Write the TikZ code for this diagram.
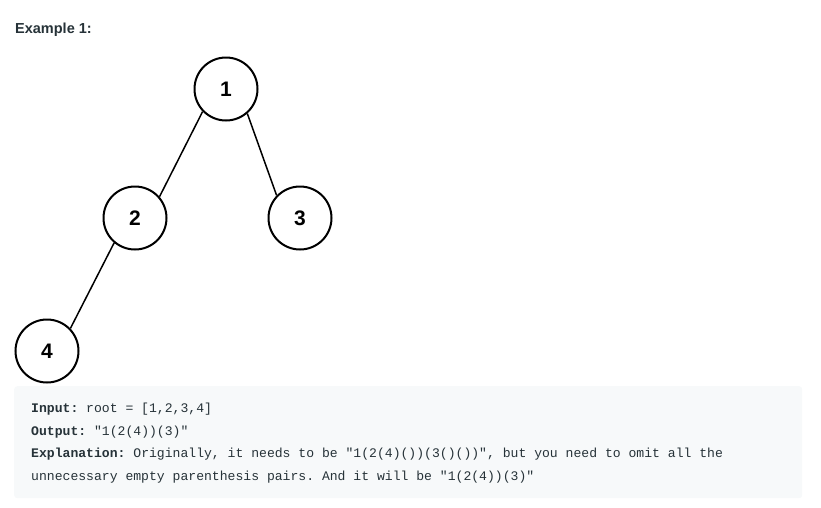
\documentclass[tikz,border=0pt]{standalone}
\usepackage{fontspec}
\setmainfont{Liberation Sans}
\setmonofont{Liberation Mono}
\usepackage{xcolor}
\definecolor{textDark}{HTML}{263238}
\definecolor{codeBack}{HTML}{F7F9FA}
\usetikzlibrary{positioning}
\tikzset{
  treeNode/.style={
    circle,
    draw=black,
    line width=2pt,
    fill=white,
    minimum size=63pt,
    inner sep=0pt,
    font=\fontsize{21}{21}\selectfont\bfseries
 },
  treeEdge/.style={
    line width=1.5pt,
    color=black
 },
  codeLine/.style={
    anchor=base west,
    inner sep=0pt,
    text=textDark,
    font=\fontsize{13.1}{14}\ttfamily
 }
}

\begin{document}
\begin{tikzpicture}[x=1pt,y=-1pt,on grid]
  \useasboundingbox (0,0) rectangle (821,507);

  % Heading
  \node[anchor=base west, inner sep=0pt, text=textDark,
        font=\fontsize{14.5}{16}\selectfont\bfseries] (title) at (15,33) {Example 1:};

  % Tree
  \node[treeNode] (n1) at (226,89) {1};
  \node[treeNode, below left=129pt and 91pt of n1] (n2) {2};
  \node[treeNode, below right=129pt and 74pt of n1] (n3) {3};
  \node[treeNode, below left=133pt and 88pt of n2] (n4) {4};

  \draw[treeEdge] (n1.224) -- (n2.41);
  \draw[treeEdge] (n1.311) -- (n3.136);
  \draw[treeEdge] (n2.230) -- (n4.44);

  % Code box
  \node[rectangle, rounded corners=3pt, fill=codeBack, anchor=north west,
        minimum width=788pt, minimum height=112pt, inner sep=0pt] (box) at (14,386) {};
  \node[codeLine] (input) at (31,412.5) {\textbf{Input:} root = [1,2,3,4]};
  \node[codeLine] (output) at (31,435.5) {\textbf{Output:} "1(2(4))(3)"};
  \node[codeLine] (expl) at (31,457.5) {\textbf{Explanation:} Originally, it needs to be "1(2(4)())(3()())", but you need to omit all the};
  \node[codeLine] (expl2) at (31,480.5) {unnecessary empty parenthesis pairs. And it will be "1(2(4))(3)"};
\end{tikzpicture}
\end{document}
